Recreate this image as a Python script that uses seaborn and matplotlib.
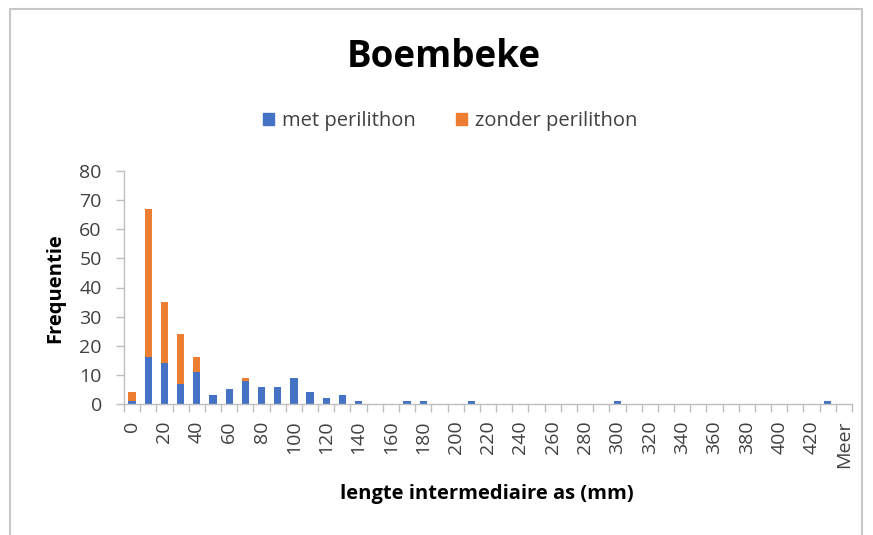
import numpy as np
import pandas as pd
import matplotlib
matplotlib.use("Agg")
import matplotlib.pyplot as plt
import seaborn as sns
from matplotlib.patches import Rectangle

# --- data ---
bins = [str(b) for b in range(0, 440, 10)] + ["Meer"]
met = [1, 16, 14, 7, 11, 3, 5, 8, 6, 6, 9, 4, 2, 3, 1,
       0, 0, 1, 1, 0, 0, 1, 0, 0, 0, 0, 0, 0, 0, 0,
       1, 0, 0, 0, 0, 0, 0, 0, 0, 0, 0, 0, 0, 1, 0]
zonder = [3, 51, 21, 17, 5, 0, 0, 1, 0, 0, 0, 0, 0, 0, 0,
          0, 0, 0, 0, 0, 0, 0, 0, 0, 0, 0, 0, 0, 0, 0,
          0, 0, 0, 0, 0, 0, 0, 0, 0, 0, 0, 0, 0, 0, 0]

blue = "#4472C4"
orange = "#ED7D31"

sns.set_theme(style="white")
plt.rcParams["font.family"] = ["Open Sans", "DejaVu Sans"]

df = pd.DataFrame({"bin": bins, "met": met, "zonder": zonder})
df["totaal"] = df["met"] + df["zonder"]

fig = plt.figure(figsize=(8.73, 5.35), dpi=100)
ax = fig.add_axes([124 / 873, 1 - 404 / 535, (852 - 124) / 873, (404 - 171) / 535])

# stacked look: total in orange, blue drawn over it
sns.barplot(data=df, x="bin", y="totaal", color=orange, width=0.45,
            saturation=1, ax=ax, linewidth=0, legend=False)
sns.barplot(data=df, x="bin", y="met", color=blue, width=0.45,
            saturation=1, ax=ax, linewidth=0, legend=False)

ax.set_ylim(0, 80)
ax.set_yticks(range(0, 81, 10))
ax.set_xlim(-0.5, len(bins) - 0.5)

# labels on every other category, ticks on category boundaries
pos = list(range(0, len(bins), 2))
ax.set_xticks(pos)
ax.set_xticklabels([bins[i] for i in pos], rotation=90)
ax.set_xticks(np.arange(-0.5, len(bins), 1), minor=True)
ax.tick_params(axis="x", which="major", length=0, pad=12, labelsize=14, colors="#404040")
ax.tick_params(axis="x", which="minor", length=6, width=1, color="#bfbfbf", direction="out", bottom=True)
ax.tick_params(axis="y", length=6, width=1, color="#bfbfbf", labelsize=14, colors="#404040", left=True, pad=10)

for s in ["top", "right"]:
    ax.spines[s].set_visible(False)
for s in ["left", "bottom"]:
    ax.spines[s].set_color("#bfbfbf")
    ax.spines[s].set_linewidth(1)

ax.set_xlabel("lengte intermediaire as (mm)", fontsize=14.5, fontweight="bold", color="#000000")
ax.set_ylabel("Frequentie", fontsize=14.5, fontweight="bold", color="#000000")
ax.xaxis.set_label_coords((487 - 124) / 728, (404 - 494) / 233)
ax.yaxis.set_label_coords((55 - 124) / 728, (404 - 288) / 233)
ax.xaxis.label.set_va("center")
ax.yaxis.label.set_va("center")

fig.text(444 / 873, 1 - 57 / 535, "Boembeke", ha="center", va="center",
         fontsize=26.5, fontweight="bold", color="#000000")

handles = [Rectangle((0, 0), 1, 1, color=blue), Rectangle((0, 0), 1, 1, color=orange)]
fig.legend(handles, ["met perilithon", "zonder perilithon"], loc="center",
           bbox_to_anchor=(450 / 873, 1 - 121 / 535), ncol=2, frameon=False,
           fontsize=14.5, handlelength=0.55, handleheight=0.55, columnspacing=2.0,
           handletextpad=0.4, labelcolor="#404040")

# chart frame like the spreadsheet border
fig.patches.append(Rectangle((10 / 873, -0.1), (862 - 10) / 873, 1.1 - 9 / 535,
                             transform=fig.transFigure, fill=False,
                             edgecolor="#c8c8c8", linewidth=1.5))

fig.savefig("out.png", dpi=100)
